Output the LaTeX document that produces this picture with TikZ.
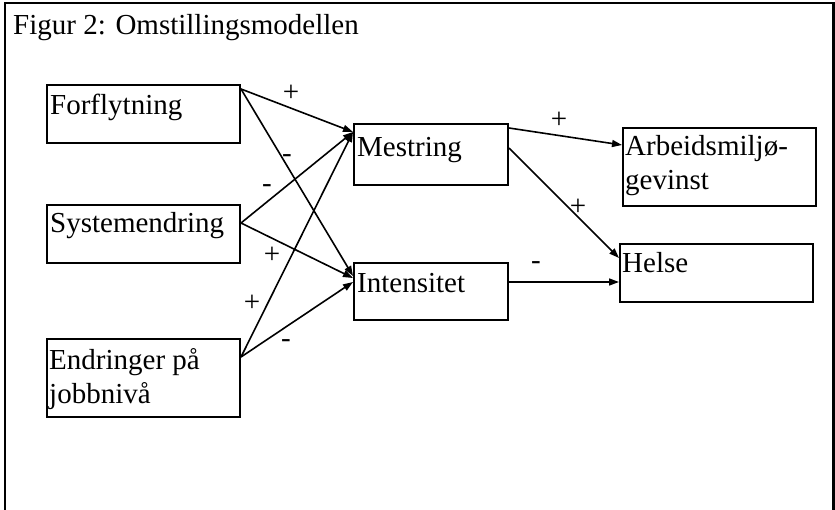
\documentclass[tikz,border=0pt]{standalone}
\usepackage{fontspec}
\setmainfont{Liberation Serif}
\usetikzlibrary{arrows.meta,calc}

\tikzset{
  box/.style={draw, line width=2pt, rectangle, anchor=north west, inner sep=0pt},
  lbl/.style={anchor=base west, inner sep=0pt, font=\fontsize{29}{34}\selectfont, align=left},
  sgn/.style={inner sep=0pt, font=\fontsize{29}{34}\selectfont},
  link/.style={line width=1.6pt, -{Triangle[length=10pt,width=7pt]}},
}

\begin{document}
\begin{tikzpicture}[x=1pt, y=-1pt]
  \useasboundingbox (0,0) rectangle (835,510);

  % outer frame, open at the bottom
  \draw[line width=2.4pt] (5,510) -- (5,3) -- (833.5,3) -- (833.5,510);

  % title
  \node[lbl] (title) at (13,35) {Figur 2: Omstillingsmodellen};

  % boxes
  \node[box, minimum width=193pt, minimum height=58pt] (forf) at (46,84) {};
  \node[box, minimum width=193pt, minimum height=58pt] (syst) at (46,204) {};
  \node[box, minimum width=193pt, minimum height=78pt] (endr) at (46,338) {};
  \node[box, minimum width=154pt, minimum height=61pt] (mest) at (353,123) {};
  \node[box, minimum width=154pt, minimum height=57pt] (inte) at (353,262) {};
  \node[box, minimum width=193pt, minimum height=78pt] (arbe) at (622,127) {};
  \node[box, minimum width=193pt, minimum height=58pt] (hels) at (619,243) {};

  % box texts (two-line texts sit on the baseline of their last line)
  \node[lbl] (forf-t) at (50,115) {Forflytning};
  \node[lbl] (syst-t) at (50,233) {Systemendring};
  \node[lbl] (endr-t) at (49,403) {Endringer på\\jobbnivå};
  \node[lbl] (mest-t) at (357,157) {Mestring};
  \node[lbl] (inte-t) at (357,293) {Intensitet};
  \node[lbl] (arbe-t) at (625,190) {Arbeidsmiljø-\\gevinst};
  \node[lbl] (hels-t) at (622,273) {Helse};

  % connectors
  \draw[link] ($(forf.north east)+(0,5)$) -- ($(mest.north west)+(0,9)$);
  \draw[link] ($(forf.north east)+(0,5)$) -- ($(inte.north west)+(0,14)$);
  \draw[link] ($(syst.north east)+(0,19)$) -- ($(mest.north west)+(0,9)$);
  \draw[link] ($(syst.north east)+(0,19)$) -- ($(inte.north west)+(0,16)$);
  \draw[link] ($(endr.north east)+(0,19)$) -- ($(mest.north west)+(0,9)$);
  \draw[link] ($(endr.north east)+(0,19)$) -- ($(inte.north west)+(0,20)$);
  \draw[link] ($(mest.north east)+(0,5)$) -- ($(arbe.north west)+(0,18)$);
  \draw[link] ($(mest.north east)+(0,25)$) -- ($(hels.north west)+(0,15)$);
  \draw[link] ($(inte.north east)+(0,20)$) -- ($(hels.north west)+(0,39)$);

  % signs
  \node[sgn] (s1) at (291,93) {+};
  \node[sgn] (s2) at (287,159) {-};
  \node[sgn] (s3) at (267,189) {-};
  \node[sgn] (s4) at (272,255) {+};
  \node[sgn] (s5) at (252,303) {+};
  \node[sgn] (s6) at (286,344) {-};
  \node[sgn] (s7) at (559,120) {+};
  \node[sgn] (s8) at (578,207) {+};
  \node[sgn] (s9) at (536,266) {-};
\end{tikzpicture}
\end{document}
